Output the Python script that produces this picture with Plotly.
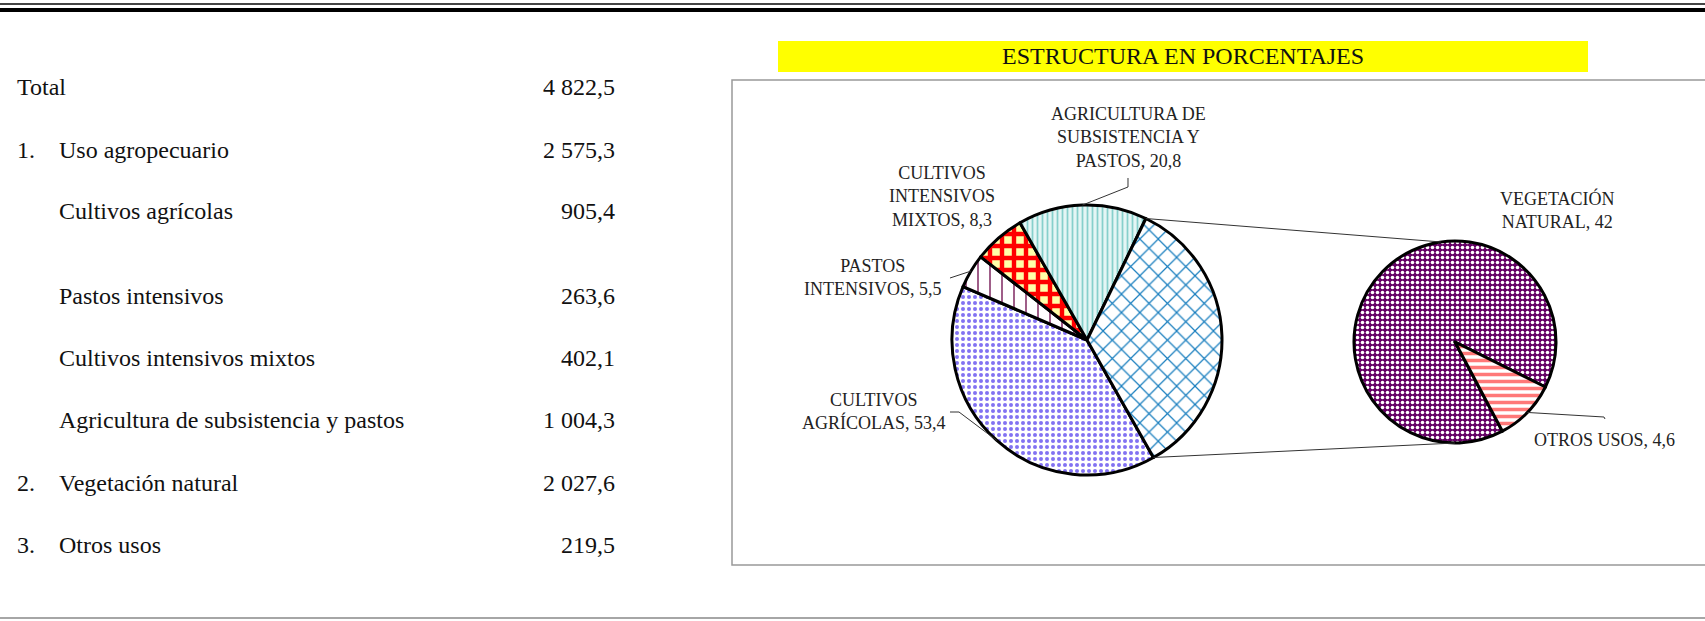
import math
import plotly.graph_objects as go

# ---- data ----
row_labels = ["Total", "Uso agropecuario", "Cultivos agrícolas", "Pastos intensivos",
              "Cultivos intensivos mixtos", "Agricultura de subsistencia y pastos",
              "Vegetación natural", "Otros usos"]
row_numbers = ["", "1.", "", "", "", "", "2.", "3."]
row_values = [4822.5, 2575.3, 905.4, 263.6, 402.1, 1004.3, 2027.6, 219.5]

main_names = ["CULTIVOS<br>AGRÍCOLAS", "PASTOS<br>INTENSIVOS", "CULTIVOS<br>INTENSIVOS<br>MIXTOS",
              "AGRICULTURA DE<br>SUBSISTENCIA Y<br>PASTOS"]
main_pct = [53.4, 5.5, 8.3, 20.8]
second_names = ["VEGETACIÓN<br>NATURAL", "OTROS USOS"]
second_pct = [42, 4.6]

W, H = 1705, 621
FONT = "Liberation Serif, Times New Roman, serif"
TEXT = "#111111"


def X(px):
    return px / W


def Y(py):
    return 1 - py / H


def fmt_thousands(v):
    whole, dec = f"{v:,.1f}".split(".")
    return whole.replace(",", " ") + "," + dec


def fmt_pct(v):
    return ("%g" % v).replace(".", ",")


# pie geometry (pixels)
MAIN_C, MAIN_R, MAIN_ROT = (1087, 340), 135, 150.5
SEC_C, SEC_R, SEC_ROT = (1455, 342), 101, 152


def edge(center, r, ang):
    a = math.radians(ang)
    return center[0] + r * math.sin(a), center[1] - r * math.cos(a)


def slice_angles(vals, rot):
    tot = sum(vals)
    out, cur = [], rot
    for v in vals:
        span = v / tot * 360
        out.append((cur, cur + span))
        cur += span
    return out


main_vals = main_pct + [sum(second_pct)]
main_ang = slice_angles(main_vals, MAIN_ROT)
sec_ang = slice_angles(second_pct, SEC_ROT)

fig = go.Figure()

main_bg = ["#FFFFFF", "#FFFFFF", "#FFFFA8", "#E4F6F5", "#FFFFFF"]
fig.add_trace(go.Pie(
    values=main_vals,
    labels=[n.replace("<br>", " ") for n in main_names] + ["Otro"],
    sort=False, direction="clockwise", rotation=MAIN_ROT,
    textinfo="none", showlegend=False,
    domain=dict(x=[X(MAIN_C[0] - MAIN_R), X(MAIN_C[0] + MAIN_R)],
                y=[Y(MAIN_C[1] + MAIN_R), Y(MAIN_C[1] - MAIN_R)]),
    marker=dict(
        colors=main_bg,
        line=dict(color="black", width=3),
        pattern=dict(shape=[".", "|", "+", "|", "x"],
                     bgcolor=main_bg,
                     fgcolor=["#8272F2", "#7A1E5A", "#FF0000", "#86D0CC", "#1A7FBF"],
                     size=[6, 12, 12, 5, 13],
                     solidity=[0.35, 0.12, 0.6, 0.35, 0.18]),
    ),
))

sec_bg = ["#650065", "#FFFFFF"]
fig.add_trace(go.Pie(
    values=second_pct,
    labels=[n.replace("<br>", " ") for n in second_names],
    sort=False, direction="clockwise", rotation=SEC_ROT,
    textinfo="none", showlegend=False,
    domain=dict(x=[X(SEC_C[0] - SEC_R), X(SEC_C[0] + SEC_R)],
                y=[Y(SEC_C[1] + SEC_R), Y(SEC_C[1] - SEC_R)]),
    marker=dict(
        colors=sec_bg,
        line=dict(color="black", width=3),
        pattern=dict(shape=[".", "-"], bgcolor=sec_bg, fgcolor=["#FFFFFF", "#FF7878"],
                     size=[5, 7], solidity=[0.4, 0.5]),
    ),
))

shapes = []
annotations = []

# rules and frames
shapes.append(dict(type="line", xref="paper", yref="paper", x0=0, x1=1, y0=Y(4), y1=Y(4),
                   line=dict(color="#444444", width=2)))
shapes.append(dict(type="line", xref="paper", yref="paper", x0=0, x1=1, y0=Y(10), y1=Y(10),
                   line=dict(color="black", width=4)))
shapes.append(dict(type="line", xref="paper", yref="paper", x0=0, x1=1, y0=Y(618), y1=Y(618),
                   line=dict(color="#888888", width=1.5)))
shapes.append(dict(type="rect", xref="paper", yref="paper", x0=X(732), x1=X(1712), y0=Y(565), y1=Y(80),
                   line=dict(color="#999999", width=1.5), layer="below"))
shapes.append(dict(type="rect", xref="paper", yref="paper", x0=X(778), x1=X(1588), y0=Y(72), y1=Y(41),
                   fillcolor="#FFFF00", line=dict(width=0), layer="below"))

annotations.append(dict(text="ESTRUCTURA EN PORCENTAJES", x=X(1183), y=Y(56), xref="paper", yref="paper",
                        xanchor="center", yanchor="middle",
                        showarrow=False, font=dict(family=FONT, size=24, color=TEXT)))

# table
row_y = [87, 150, 211, 296, 358, 420, 483, 545]
for lab, num, val, ry in zip(row_labels, row_numbers, row_values, row_y):
    lx = 15 if lab == "Total" else 57
    common = dict(y=Y(ry), xref="paper", yref="paper", yanchor="middle", showarrow=False,
                  font=dict(family=FONT, size=24, color=TEXT))
    annotations.append(dict(text=lab, x=X(lx), xanchor="left", **common))
    if num:
        annotations.append(dict(text=num, x=X(15), xanchor="left", **common))
    annotations.append(dict(text=fmt_thousands(val), x=X(617), xanchor="right", **common))

# pie labels: (label center px, leader polyline start points)
main_label_pos = [(874, 412), (873, 277), (942, 196), (1128, 137)]
main_leaders = [[(950, 412), (959, 412)], [(950, 278)], None, [(1128, 178), (1128, 187)]]
sec_label_pos = [(1557, 210), (1604, 440)]
sec_leaders = [None, [(1605, 419), (1604, 417)]]


def add_label(name, val, pos, leader, center, r, ang):
    annotations.append(dict(text=f"{name}, {fmt_pct(val)}", x=X(pos[0]), y=Y(pos[1]),
                            xref="paper", yref="paper", xanchor="center", yanchor="middle",
                            showarrow=False, align="center",
                            font=dict(family=FONT, size=18, color="#222222")))
    if leader:
        ex, ey = edge(center, r, (ang[0] + ang[1]) / 2)
        pts = leader + [(ex, ey)]
        path = "M " + " L ".join(f"{X(px):.5f},{Y(py):.5f}" for px, py in pts)
        shapes.append(dict(type="path", xref="paper", yref="paper", path=path,
                           line=dict(color="#333333", width=1)))


for i in range(len(main_pct)):
    add_label(main_names[i], main_pct[i], main_label_pos[i], main_leaders[i], MAIN_C, MAIN_R, main_ang[i])
for i in range(len(second_pct)):
    add_label(second_names[i], second_pct[i], sec_label_pos[i], sec_leaders[i], SEC_C, SEC_R, sec_ang[i])

# connector lines between the "other" slice and the secondary pie
o0, o1 = main_ang[-1]
for a_main, a_sec in [(o0, -8), (o1, 180)]:
    x0, y0 = edge(MAIN_C, MAIN_R, a_main)
    x1, y1 = edge(SEC_C, SEC_R, a_sec)
    shapes.append(dict(type="line", xref="paper", yref="paper", x0=X(x0), y0=Y(y0), x1=X(x1), y1=Y(y1),
                       line=dict(color="#333333", width=1)))

fig.update_layout(
    width=W, height=H,
    margin=dict(l=0, r=0, t=0, b=0),
    paper_bgcolor="white", plot_bgcolor="white",
    shapes=shapes, annotations=annotations,
    font=dict(family=FONT),
)

fig.write_html("out.html", config={"displayModeBar": False},
               post_script="document.body.style.margin='0';")
